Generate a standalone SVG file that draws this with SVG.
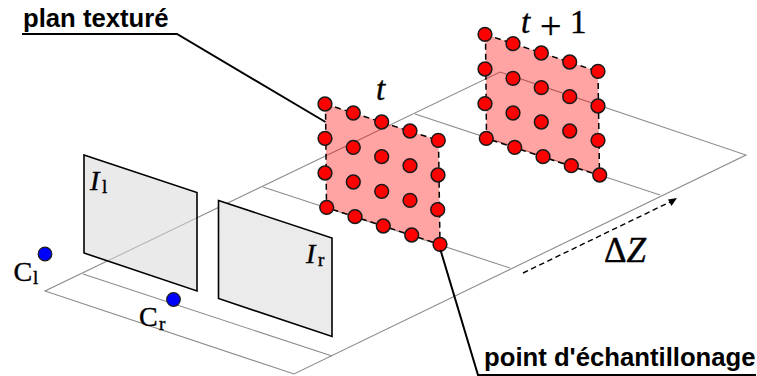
<svg xmlns="http://www.w3.org/2000/svg" width="757" height="376" viewBox="0 0 757 376">
<style>
.g{fill:none;stroke:#8c8c8c;stroke-width:1.1}
.img{fill:#ebebeb;stroke:#000;stroke-width:1.6}
.il{fill:#d9d9d9;fill-opacity:.55}
.pl{fill:#f00;fill-opacity:.36;stroke:#000;stroke-width:1.5;stroke-dasharray:6 4}
.lead{fill:none;stroke:#000;stroke-width:2}
.d{fill:#f00;stroke:#1a1a1a;stroke-width:1.5}
.d circle{r:6.900px}
.c{fill:#00f;stroke:#1a1a1a;stroke-width:1.2}
.m{font-family:"Liberation Serif",serif;fill:#000;stroke:#000;stroke-width:.4}
.i{font-style:italic}
.b{font-family:"Liberation Sans",Arial,sans-serif;font-weight:bold;font-size:25.700px;fill:#000}
</style>
<rect width="757" height="376" fill="#fff"/>
<g id="ground" class="g">
<path d="M45 291L294 374L746 155L500 72Z"/>
<path d="M83 274L332 356"/>
<path d="M263 187L510 268"/>
<path d="M415 114L660 195"/>
</g>
<g id="image-left">
<path class="img il" d="M84 155L197 192.500V291L84 253Z"/>
<text class="m i" x="90" y="190" font-size="28">I</text><text class="m" x="102" y="193" font-size="19">l</text>
</g>
<g id="image-right">
<path class="img" d="M218.500 200.500L332 238V336.500L218.500 298.500Z"/>
<text class="m i" x="306" y="263" font-size="28">I</text><text class="m" x="318" y="266" font-size="19">r</text>
</g>
<g id="camera-left">
<circle class="c" cx="45" cy="254" r="6.800"/>
<text class="m" x="13.500" y="281" font-size="28">C</text><text class="m" x="33" y="284" font-size="19">l</text>
</g>
<g id="camera-right">
<circle class="c" cx="173.500" cy="299.500" r="6.800"/>
<text class="m" x="139" y="326" font-size="28">C</text><text class="m" x="159" y="330" font-size="19">r</text>
</g>
<g id="plane-t">
<path class="pl" d="M325.500 104L438.500 140.500L440 244.500L326.500 207.500Z"/>
<g class="d">
<circle cx="325" cy="104"/><circle cx="325" cy="138.300"/><circle cx="325" cy="173"/><circle cx="326.700" cy="207.300"/>
<circle cx="353.300" cy="113"/><circle cx="353.300" cy="147.300"/><circle cx="353.300" cy="182"/><circle cx="355" cy="216.700"/>
<circle cx="381.700" cy="122"/><circle cx="381.700" cy="156.700"/><circle cx="381.700" cy="191.300"/><circle cx="383.300" cy="226"/>
<circle cx="410" cy="131"/><circle cx="410" cy="165.700"/><circle cx="410" cy="200.300"/><circle cx="411.700" cy="235"/>
<circle cx="438.300" cy="140.300"/><circle cx="438" cy="175"/><circle cx="437.700" cy="209.700"/><circle cx="440" cy="244.300"/>
</g>
<text class="m i" x="376" y="100" font-size="33">t</text>
</g>
<g id="plane-t1">
<path class="pl" d="M485.500 34.500L598 71.500L599.500 175.500L486.500 138.500Z"/>
<g class="d">
<circle cx="485" cy="34.300"/><circle cx="485" cy="69"/><circle cx="485" cy="103.700"/><circle cx="486.300" cy="138.300"/>
<circle cx="513" cy="43.700"/><circle cx="513" cy="78.300"/><circle cx="513" cy="113"/><circle cx="514.700" cy="147.300"/>
<circle cx="541.300" cy="53"/><circle cx="541.300" cy="87.700"/><circle cx="541.300" cy="122"/><circle cx="543" cy="156.700"/>
<circle cx="569.700" cy="62"/><circle cx="569.700" cy="96.700"/><circle cx="569.700" cy="131"/><circle cx="571.300" cy="165.700"/>
<circle cx="598" cy="71.300"/><circle cx="598" cy="106"/><circle cx="598" cy="140.300"/><circle cx="599.700" cy="175"/>
</g>
<text class="m" y="33" font-size="33"><tspan class="i" x="521">t</tspan> <tspan x="540" y="39" font-size="38">+</tspan> <tspan x="570" y="33">1</tspan></text>
</g>
<g id="connectors">
<path class="lead" d="M22 34H177L325.500 122"/>
<path class="lead" d="M440.500 250L478 375H756"/>
<path d="M523 273L670 202" fill="none" stroke="#000" stroke-width="1.400" stroke-dasharray="5.500 3.500"/>
<path d="M677 198L668 199.500L671.500 206Z" fill="#000"/>
</g>
<g id="labels">
<text class="b" x="23" y="27">plan texturé</text>
<text class="b" x="484" y="366">point d'échantillonage</text>
<text class="m" x="604" y="262" font-size="35">Δ<tspan class="i">Z</tspan></text>
</g>
</svg>
